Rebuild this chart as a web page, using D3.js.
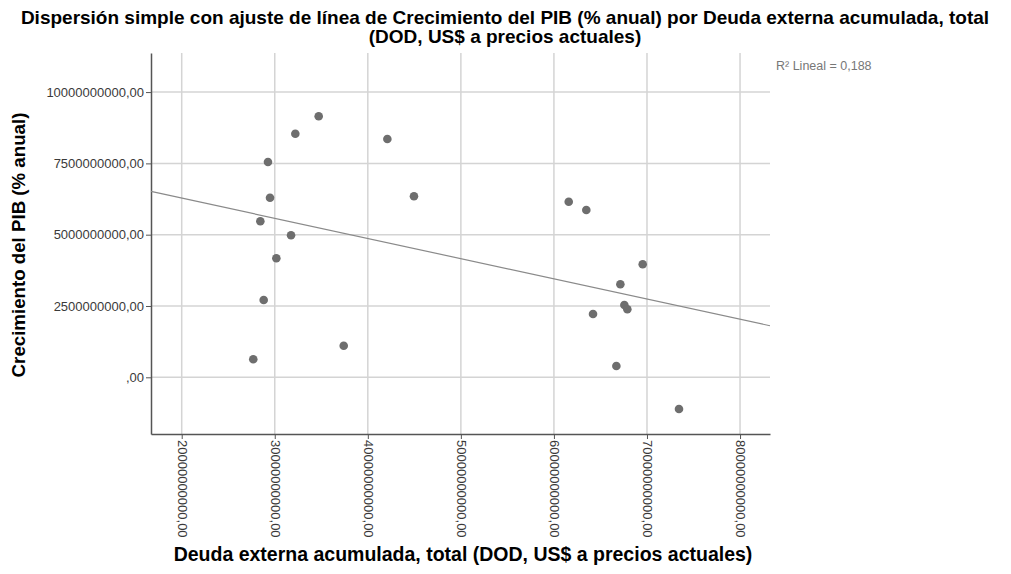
<!DOCTYPE html>
<html><head><meta charset="utf-8">
<script src="https://cdn.jsdelivr.net/npm/d3@7"></script>
<style>body{margin:0;background:#fff;}svg{display:block;font-family:"Liberation Sans",Arial,sans-serif;}</style>
</head><body><svg id="c" width="1011" height="574"></svg>
<script>
const debtX = [3.472e10,3.221e10,4.210e10,2.927e10,2.949e10,4.496e10,2.845e10,3.175e10,3.017e10,2.881e10,3.741e10,2.769e10,6.159e10,6.348e10,6.954e10,6.714e10,6.757e10,6.789e10,6.420e10,6.671e10,7.344e10];
const growthY = [9.152e9,8.541e9,8.356e9,7.549e9,6.297e9,6.346e9,5.470e9,4.979e9,4.173e9,2.710e9,1.108e9,0.631e9,6.157e9,5.866e9,3.962e9,3.261e9,2.535e9,2.384e9,2.219e9,0.396e9,-1.111e9];
const xTicks = [2e10,3e10,4e10,5e10,6e10,7e10,8e10];
const xTickLabels = ["20000000000,00","30000000000,00","40000000000,00","50000000000,00","60000000000,00","70000000000,00","80000000000,00"];
const yTicks = [0,2.5e9,5e9,7.5e9,1e10];
const yTickLabels = [",00","2500000000,00","5000000000,00","7500000000,00","10000000000,00"];
const titleLines = ["Dispersión simple con ajuste de línea de Crecimiento del PIB (% anual) por Deuda externa acumulada, total","(DOD, US$ a precios actuales)"];
const xTitle = "Deuda externa acumulada, total (DOD, US$ a precios actuales)";
const yTitle = "Crecimiento del PIB (% anual)";
const r2Label = "R² Lineal = 0,188";

const svg = d3.select("#c");
const L=151,R=770,T=53,B=434;
const x = d3.scaleLinear().domain([1.670e10,8.322e10]).range([L,R]);
const y = d3.scaleLinear().domain([-1.988e9,1.137e10]).range([B,T]);

// grid
svg.append("g").selectAll("line").data(xTicks).join("line")
  .attr("x1",d=>x(d)).attr("x2",d=>x(d)).attr("y1",T).attr("y2",B)
  .attr("stroke","#d4d4d4").attr("stroke-width",1.5);
svg.append("g").selectAll("line").data(yTicks).join("line")
  .attr("x1",L).attr("x2",R).attr("y1",d=>y(d)).attr("y2",d=>y(d))
  .attr("stroke","#d4d4d4").attr("stroke-width",1.5);

// axes
const ya = svg.append("g").attr("transform",`translate(${L},0)`)
  .call(d3.axisLeft(y).tickValues(yTicks).tickFormat((d,i)=>yTickLabels[i]).tickSize(5).tickSizeOuter(0));
const xa = svg.append("g").attr("transform",`translate(0,${B})`)
  .call(d3.axisBottom(x).tickValues(xTicks).tickFormat((d,i)=>xTickLabels[i]).tickSize(5).tickSizeOuter(0));
[ya,xa].forEach(g=>{
  g.select(".domain").attr("stroke","#555").attr("stroke-width",1.5);
  g.selectAll(".tick line").attr("stroke","#555");
  g.selectAll(".tick text").attr("fill","#3a3a3a").attr("font-size",13).attr("font-family","Liberation Sans, Arial, sans-serif");
});
ya.selectAll(".tick text").attr("x",-7);
xa.selectAll(".tick text").attr("transform","rotate(90)").attr("text-anchor","start")
  .attr("x",6).attr("y",0).attr("dy","0.35em");

// regression
const n=debtX.length, mx=d3.mean(debtX), my=d3.mean(growthY);
let sxy=0,sxx=0; for(let i=0;i<n;i++){sxy+=(debtX[i]-mx)*(growthY[i]-my);sxx+=(debtX[i]-mx)**2;}
const b=sxy/sxx, a=my-b*mx;
const [d0,d1]=x.domain();
svg.append("line").attr("x1",x(d0)).attr("x2",x(d1)).attr("y1",y(a+b*d0)).attr("y2",y(a+b*d1))
  .attr("stroke","#8a8a8a").attr("stroke-width",1.2);

// points
svg.append("g").selectAll("circle").data(d3.range(n)).join("circle")
  .attr("cx",i=>x(debtX[i])).attr("cy",i=>y(growthY[i])).attr("r",4.3).attr("fill","#6e6e6e");

// texts
svg.append("text").attr("text-anchor","middle").attr("font-weight","bold").attr("font-size",19)
  .selectAll("tspan").data(titleLines).join("tspan").attr("x",505).attr("y",(d,i)=>24+i*19).text(d=>d);
svg.append("text").attr("x",463).attr("y",561).attr("text-anchor","middle").attr("font-weight","bold").attr("font-size",19.5).text(xTitle);
svg.append("text").attr("transform",`translate(25,${245}) rotate(-90)`).attr("text-anchor","middle").attr("font-weight","bold").attr("font-size",18.7).text(yTitle);
svg.append("text").attr("x",776).attr("y",70).attr("font-size",12.5).attr("fill","#777").text(r2Label);
</script></body></html>
